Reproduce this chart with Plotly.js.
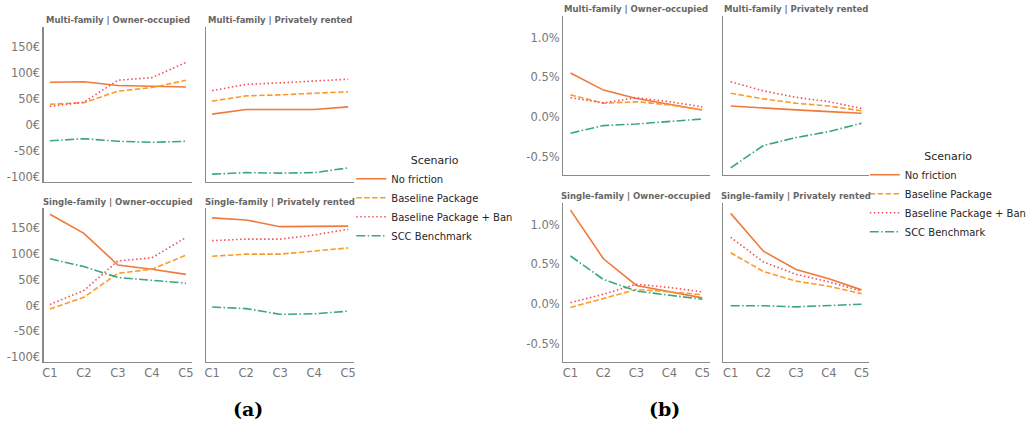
<!DOCTYPE html>
<html>
<head>
<meta charset="utf-8">
<script src="https://cdn.plot.ly/plotly-3.0.1.min.js"></script>
<style>html,body{margin:0;padding:0;background:#fff;} #chart{width:1032px;height:426px;}</style>
</head>
<body>
<div id="chart"></div>
<script>
// ---------- DATA ----------
const categories = ['C1', 'C2', 'C3', 'C4', 'C5'];
const scenarios = ['No friction', 'Baseline Package', 'Baseline Package + Ban', 'SCC Benchmark'];

// (a) values in €
const aMfOwnNoFriction = [82, 83, 76, 75, 73];
const aMfOwnBaseline   = [40, 43, 65, 72, 86];
const aMfOwnBan        = [36, 44, 86, 91, 120];
const aMfOwnScc        = [-30, -26, -31, -33, -31];

const aMfRentNoFriction = [21, 30, 30, 30, 35];
const aMfRentBaseline   = [46, 56, 58, 61, 64];
const aMfRentBan        = [66, 78, 81, 84, 88];
const aMfRentScc        = [-94, -91, -92, -91, -82];

const aSfOwnNoFriction = [176, 139, 78, 70, 60];
const aSfOwnBaseline   = [-7, 16, 62, 70, 97];
const aSfOwnBan        = [2, 29, 86, 92, 131];
const aSfOwnScc        = [90, 75, 54, 48, 43];

const aSfRentNoFriction = [169, 165, 152, 152, 153];
const aSfRentBaseline   = [95, 99, 99, 105, 111];
const aSfRentBan        = [125, 128, 128, 136, 147];
const aSfRentScc        = [-3, -6, -17, -16, -11];

// (b) values in %
const bMfOwnNoFriction = [0.555, 0.34, 0.235, 0.16, 0.09];
const bMfOwnBaseline   = [0.28, 0.175, 0.195, 0.155, 0.09];
const bMfOwnBan        = [0.245, 0.18, 0.245, 0.195, 0.13];
const bMfOwnScc        = [-0.2, -0.105, -0.085, -0.058, -0.022];

const bMfRentNoFriction = [0.14, 0.12, 0.092, 0.07, 0.05];
const bMfRentBaseline   = [0.30, 0.23, 0.175, 0.14, 0.08];
const bMfRentBan        = [0.445, 0.33, 0.25, 0.195, 0.11];
const bMfRentScc        = [-0.635, -0.355, -0.255, -0.18, -0.075];

const bSfOwnNoFriction = [1.18, 0.57, 0.235, 0.155, 0.08];
const bSfOwnBaseline   = [-0.04, 0.07, 0.185, 0.155, 0.12];
const bSfOwnBan        = [0.02, 0.125, 0.25, 0.21, 0.155];
const bSfOwnScc        = [0.605, 0.31, 0.165, 0.11, 0.062];

const bSfRentNoFriction = [1.14, 0.665, 0.435, 0.32, 0.18];
const bSfRentBaseline   = [0.645, 0.41, 0.29, 0.225, 0.133];
const bSfRentBan        = [0.84, 0.53, 0.375, 0.28, 0.165];
const bSfRentScc        = [-0.02, -0.02, -0.033, -0.02, 0.0];

// tick labels
const tickValsA = [-100, -50, 0, 50, 100, 150];
const tickTextA = ['-100€', '-50€', '0€', '50€', '100€', '150€'];
const tickValsB = [-0.5, 0, 0.5, 1.0];
const tickTextB = ['-0.5%', '0.0%', '0.5%', '1.0%'];

const panelTitles = ['Multi-family | Owner-occupied', 'Multi-family | Privately rented',
                     'Single-family | Owner-occupied', 'Single-family | Privately rented'];
const groupLabels = ['(a)', '(b)'];

// ---------- STYLE / LAYOUT ----------
const W = 1032, H = 426;
const colors = ['#EE7A3B', '#FC9B2A', '#F0505C', '#3AA67E'];
const dashes = ['solid', '5.5px,2.4px', '1.5px,2.5px', '9px,2.4px,1.5px,2.4px'];
const FONT = 'DejaVu Sans, sans-serif';

const panels = [
  // group a
  {g: 0, xd: [44, 193], yd: [27, 182], data: [aMfOwnNoFriction, aMfOwnBaseline, aMfOwnBan, aMfOwnScc], top: true, left: true, ty: 20},
  {g: 0, xd: [207, 356], yd: [27, 182], data: [aMfRentNoFriction, aMfRentBaseline, aMfRentBan, aMfRentScc], top: true, left: false, ty: 20},
  {g: 0, xd: [44, 193], yd: [208, 362], data: [aSfOwnNoFriction, aSfOwnBaseline, aSfOwnBan, aSfOwnScc], top: false, left: true, ty: 202},
  {g: 0, xd: [207, 356], yd: [208, 362], data: [aSfRentNoFriction, aSfRentBaseline, aSfRentBan, aSfRentScc], top: false, left: false, ty: 202},
  // group b
  {g: 1, xd: [566, 713], yd: [16, 175], data: [bMfOwnNoFriction, bMfOwnBaseline, bMfOwnBan, bMfOwnScc], top: true, left: true, ty: 9},
  {g: 1, xd: [727, 873], yd: [16, 175], data: [bMfRentNoFriction, bMfRentBaseline, bMfRentBan, bMfRentScc], top: true, left: false, ty: 9},
  {g: 1, xd: [566, 713], yd: [203, 362], data: [bSfOwnNoFriction, bSfOwnBaseline, bSfOwnBan, bSfOwnScc], top: false, left: true, ty: 196},
  {g: 1, xd: [727, 873], yd: [203, 362], data: [bSfRentNoFriction, bSfRentBaseline, bSfRentBan, bSfRentScc], top: false, left: false, ty: 196}
];

const traces = [];
const layout = {
  width: W, height: H,
  margin: {l: 0, r: 0, t: 0, b: 0},
  paper_bgcolor: '#ffffff', plot_bgcolor: '#ffffff',
  font: {family: FONT, color: '#777777', size: 11},
  annotations: [],
  legend: {
    x: 353 / W, y: 1 - 150 / H, xanchor: 'left', yanchor: 'top',
    bgcolor: 'rgba(0,0,0,0)', font: {family: FONT, size: 10, color: '#262626'},
    title: {text: 'Scenario', side: 'top center', font: {family: FONT, size: 11, color: '#262626'}},
    tracegroupgap: 0
  },
  legend2: {
    x: 869 / W, y: 1 - 146 / H, xanchor: 'left', yanchor: 'top',
    bgcolor: 'rgba(0,0,0,0)', font: {family: FONT, size: 10, color: '#262626'},
    title: {text: 'Scenario', side: 'top center', font: {family: FONT, size: 11, color: '#262626'}},
    tracegroupgap: 0
  }
};

panels.forEach((p, i) => {
  const n = i + 1;
  const xk = n === 1 ? 'xaxis' : 'xaxis' + n;
  const yk = n === 1 ? 'yaxis' : 'yaxis' + n;
  const xid = n === 1 ? 'x' : 'x' + n;
  const yid = n === 1 ? 'y' : 'y' + n;
  const pad = p.g === 0 ? 0.18 : 0.22;
  layout[xk] = {
    domain: [p.xd[0] / W, p.xd[1] / W],
    anchor: yid, type: 'category',
    range: [-pad, categories.length - 1 + pad],
    showline: true, linecolor: '#8a8a8a', linewidth: 1.3,
    showgrid: false, zeroline: false, ticks: '',
    showticklabels: !p.top,
    tickfont: {family: FONT, size: 11.5, color: '#777777'},
    fixedrange: true
  };
  layout[yk] = {
    domain: [1 - p.yd[1] / H, 1 - p.yd[0] / H],
    anchor: xid,
    range: p.g === 0 ? [-109, 188] : [-0.725, 1.27],
    showline: true, linecolor: '#8a8a8a', linewidth: 1.3,
    showgrid: false, zeroline: false, ticks: '',
    tickmode: 'array',
    tickvals: p.g === 0 ? tickValsA : tickValsB,
    ticktext: p.g === 0 ? tickTextA : tickTextB,
    showticklabels: p.left,
    tickfont: {family: FONT, size: 11.5, color: '#777777'},
    fixedrange: true
  };
  p.data.forEach((vals, s) => {
    traces.push({
      type: 'scatter', mode: 'lines',
      x: categories, y: vals,
      xaxis: xid, yaxis: yid,
      name: scenarios[s],
      legendgroup: 'g' + p.g + s,
      legend: p.g === 0 ? 'legend' : 'legend2',
      showlegend: (i === 0 || i === 4),
      line: {color: colors[s], width: 1.6, dash: dashes[s]},
      hoverinfo: 'skip'
    });
  });
  layout.annotations.push({
    text: '<b>' + panelTitles[i % 4] + '</b>',
    x: (p.xd[0] + p.xd[1]) / 2 / W, y: 1 - p.ty / H,
    xref: 'paper', yref: 'paper', xanchor: 'center', yanchor: 'middle',
    showarrow: false, font: {family: FONT, size: 8.5, color: '#666666'}
  });
});

groupLabels.forEach((lbl, k) => {
  layout.annotations.push({
    text: '<b>' + lbl + '</b>', x: (k === 0 ? 249 : 668) / W, y: 1 - 409 / H,
    xref: 'paper', yref: 'paper', xanchor: 'center', yanchor: 'middle', showarrow: false,
    font: {family: 'DejaVu Serif, serif', size: 19, color: '#000000'}
  });
});

Plotly.newPlot('chart', traces, layout, {staticPlot: true, displayModeBar: false});
</script>
</body>
</html>
